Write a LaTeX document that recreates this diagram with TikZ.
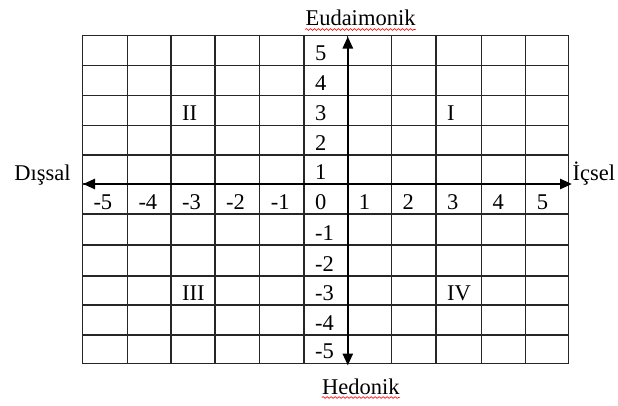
\documentclass[tikz,border=0pt]{standalone}
\usepackage{fontspec}
\setmainfont{Liberation Serif}
\usetikzlibrary{arrows.meta,decorations.pathmorphing}
\begin{document}
\begin{tikzpicture}[x=1pt,y=-1pt,
  gridline/.style={line width=1.2pt, draw=black!85, line cap=rect},
  axisline/.style={line width=2.6pt, draw=black,
    {Triangle[length=12pt,width=10pt]}-{Triangle[length=12pt,width=10pt]}},
  celltext/.style={anchor=base west, inner sep=0pt, font=\fontsize{22.5}{27}\selectfont},
  outtext/.style={anchor=base, inner sep=0pt, font=\fontsize{22.5}{27}\selectfont},
  squiggle/.style={draw=red, line width=0.6pt, decorate,
    decoration={snake, segment length=4pt, amplitude=0.9pt}}]
\useasboundingbox (0,0) rectangle (618,405);
\def\xs{{82.3,127.3,171,215,259.7,303.9,347.7,391.4,436,481.3,525.7,568.8}}
\def\ys{{35.7,65.7,95.7,125.7,155,184,214,245,276,305,335,363.3}}
% grid
\foreach \x in {82.3,127.3,171,215,259.7,303.9,347.7,391.4,436,481.3,525.7,568.8}
  \draw[gridline] (\x,35.7) -- (\x,363.3);
\foreach \y in {35.7,65.7,95.7,125.7,155,184,214,245,276,305,335,363.3}
  \draw[gridline] (82.3,\y) -- (568.8,\y);
% axes
\coordinate (W) at (83,184);
\coordinate (E) at (572,184);
\coordinate (N) at (347.8,36.5);
\coordinate (S) at (347.8,365.5);
\draw[axisline] (W) -- (E);
\draw[axisline] (N) -- (S);
% x labels
\foreach \lab [count=\i from 0] in {-5,-4,-3,-2,-1,0,1,2,3,4,5} {
  \pgfmathsetmacro\cx{\xs[\i]+11}
  \node[celltext] (xl\i) at (\cx,209) {\lab};
}
% y labels
\foreach \lab [count=\i from 0] in {5,4,3,2,1} {
  \pgfmathsetmacro\cy{\ys[\i+1]-5}
  \node[celltext] (yp\i) at (314.9,\cy) {\lab};
}
\foreach \lab [count=\i from 6] in {-1,-2,-3,-4,-5} {
  \pgfmathsetmacro\cy{\ys[\i+1]-5}
  \node[celltext] (yn\i) at (314.9,\cy) {\lab};
}
% quadrant labels
\node[celltext] (q2) at (182,120.7) {II};
\node[celltext] (q1) at (447,120.7) {I};
\node[celltext] (q3) at (182,300) {III};
\node[celltext] (q4) at (447,300) {IV};
% outer labels
\node[outtext] (eud) at (360.5,25) {Eudaimonik};
\node[outtext] (hed) at (360.8,394.5) {Hedonik};
\node[outtext] (dis) at (42.5,180) {Dışsal};
\node[celltext] (ic) at (572.5,180) {İçsel};
\draw[squiggle] ([yshift=-4.5pt]eud.base west) -- ([yshift=-4.5pt]eud.base east);
\draw[squiggle] ([yshift=-3pt]hed.base west) -- ([yshift=-3pt]hed.base east);
\end{tikzpicture}
\end{document}
